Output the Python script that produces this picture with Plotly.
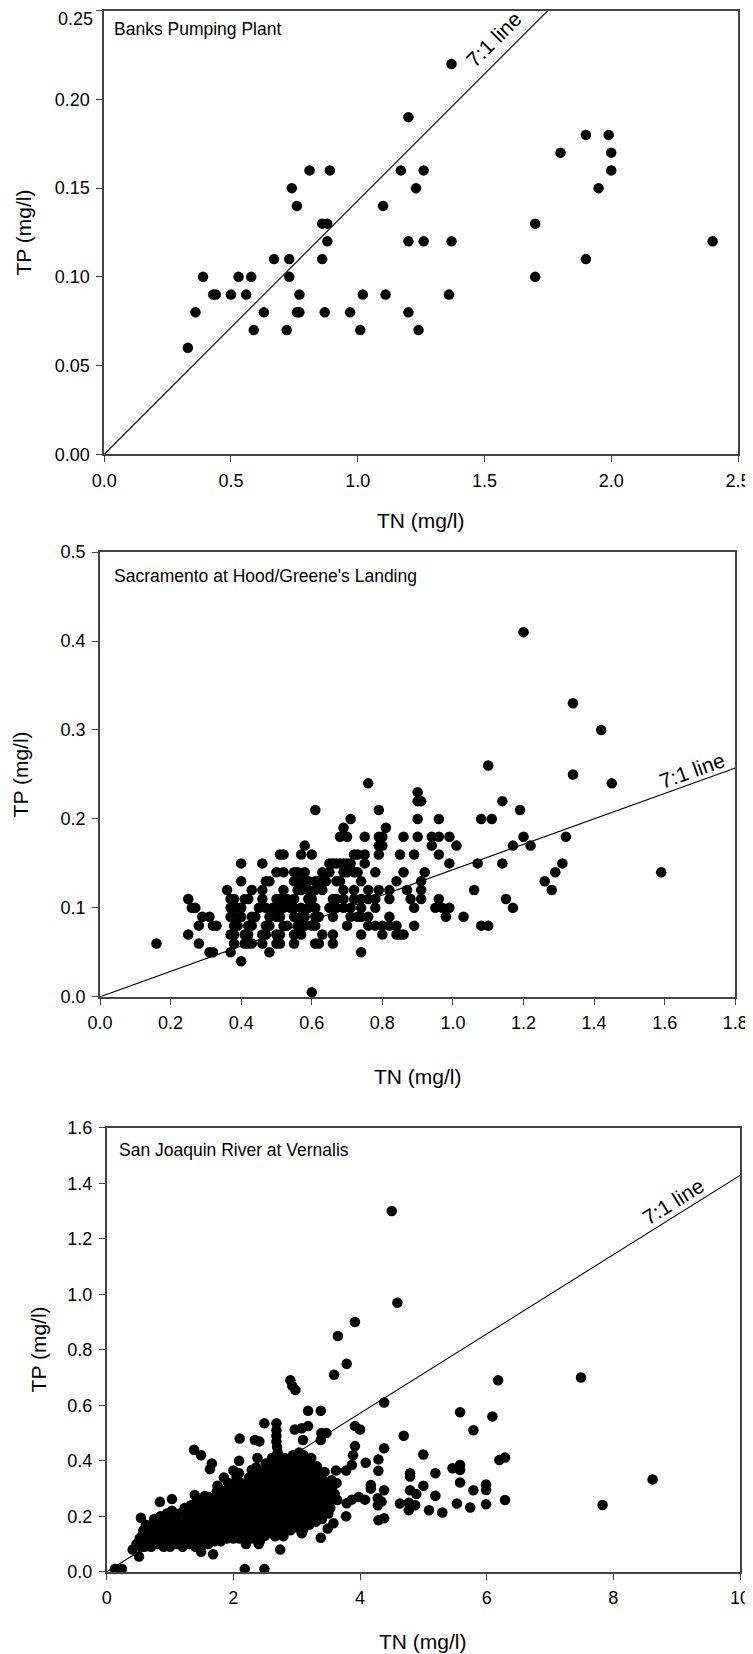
import plotly.graph_objects as go

W, H = 753, 1654
FONT = "Liberation Sans, Arial, sans-serif"

# ---------------- Panel 1: Banks Pumping Plant ----------------
banks_tn = [0.33, 0.36, 0.39, 0.43, 0.44, 0.50, 0.53, 0.56, 0.58, 0.59,
            0.63, 0.67, 0.72, 0.73, 0.73, 0.74, 0.76, 0.76, 0.77, 0.77,
            0.81, 0.86, 0.88, 0.86, 0.87, 0.88, 0.89, 0.97, 1.01, 1.02,
            1.10, 1.11, 1.17, 1.20, 1.20, 1.20, 1.23, 1.24, 1.26, 1.26,
            1.36, 1.37, 1.37, 1.70, 1.70, 1.80, 1.90, 1.90, 1.95, 1.99,
            2.00, 2.00, 2.40]
banks_tp = [0.06, 0.08, 0.10, 0.09, 0.09, 0.09, 0.10, 0.09, 0.10, 0.07,
            0.08, 0.11, 0.07, 0.11, 0.10, 0.15, 0.14, 0.08, 0.08, 0.09,
            0.16, 0.13, 0.13, 0.11, 0.08, 0.12, 0.16, 0.08, 0.07, 0.09,
            0.14, 0.09, 0.16, 0.19, 0.12, 0.08, 0.15, 0.07, 0.16, 0.12,
            0.09, 0.22, 0.12, 0.13, 0.10, 0.17, 0.18, 0.11, 0.15, 0.18,
            0.17, 0.16, 0.12]
banks_yticks = [0.00, 0.05, 0.10, 0.15, 0.20, 0.25]

# ---------------- Panel 2: Sacramento at Hood/Greene's Landing ----------------
sac_tn = [
    0.60,
    0.40,
    0.31, 0.32, 0.37, 0.48, 0.74,
    0.16, 0.28, 0.38, 0.41, 0.42, 0.43, 0.46, 0.50, 0.51, 0.55, 0.61, 0.62, 0.66,
    0.25, 0.37, 0.38, 0.41, 0.42, 0.46, 0.47, 0.50, 0.51, 0.55, 0.57, 0.63, 0.66, 0.74, 0.80, 0.84, 0.85, 0.86,
    0.28, 0.32, 0.33, 0.38, 0.39, 0.42, 0.43, 0.47, 0.48, 0.52, 0.53, 0.56, 0.57, 0.58, 0.60, 0.61, 0.70, 0.76, 0.78, 0.80, 0.82, 0.84, 0.89, 1.08, 1.10,
    0.29, 0.31, 0.37, 0.38, 0.40, 0.43, 0.44, 0.48, 0.50, 0.51, 0.55, 0.57, 0.58, 0.61, 0.62, 0.66, 0.71, 0.73, 0.74, 0.76, 0.82, 0.98, 1.03,
    0.26, 0.27, 0.37, 0.39, 0.40, 0.45, 0.47, 0.49, 0.50, 0.52, 0.54, 0.55, 0.57, 0.59, 0.61, 0.65, 0.67, 0.69, 0.71, 0.74, 0.78, 0.89, 0.95, 0.97, 0.99, 1.17,
    0.25, 0.37, 0.38, 0.41, 0.42, 0.46, 0.50, 0.51, 0.53, 0.55, 0.59, 0.60, 0.66, 0.67, 0.69, 0.72, 0.74, 0.76, 0.78, 0.82, 0.88, 0.91, 0.96, 1.15,
    0.36, 0.43, 0.46, 0.52, 0.56, 0.57, 0.59, 0.61, 0.63, 0.69, 0.72, 0.76, 0.79, 0.82, 0.87, 0.91, 1.06, 1.28,
    0.40, 0.47, 0.48, 0.55, 0.57, 0.58, 0.59, 0.61, 0.62, 0.64, 0.67, 0.68, 0.74, 0.84, 0.91, 1.26,
    0.50, 0.52, 0.55, 0.56, 0.58, 0.63, 0.65, 0.69, 0.70, 0.72, 0.73, 0.78, 0.86, 0.92, 1.29, 1.59,
    0.40, 0.46, 0.65, 0.66, 0.67, 0.68, 0.69, 0.70, 0.71, 0.75, 0.99, 1.07, 1.14, 1.31,
    0.51, 0.52, 0.57, 0.60, 0.72, 0.73, 0.75, 0.79, 0.85, 0.89, 0.96,
    0.58, 0.79, 0.80, 0.94, 1.01, 1.17, 1.22,
    0.68, 0.70, 0.75, 0.79, 0.80, 0.86, 0.90, 0.94, 0.96, 0.99, 1.20, 1.32,
    0.69, 0.81,
    0.71, 0.90, 0.96, 1.08, 1.11,
    0.61, 0.79, 1.19,
    0.90, 0.91, 1.14,
    0.90,
    0.76, 1.45,
    1.34,
    1.10,
    1.42,
    1.34,
    1.20,
]
sac_tp = [
    0.005,
    0.04,
    0.05, 0.05, 0.05, 0.05, 0.05,
    0.06, 0.06, 0.06, 0.06, 0.06, 0.06, 0.06, 0.06, 0.06, 0.06, 0.06, 0.06, 0.06,
    0.07, 0.07, 0.07, 0.07, 0.07, 0.07, 0.07, 0.07, 0.07, 0.07, 0.07, 0.07, 0.07, 0.07, 0.07, 0.07, 0.07, 0.07,
    0.08, 0.08, 0.08, 0.08, 0.08, 0.08, 0.08, 0.08, 0.08, 0.08, 0.08, 0.08, 0.08, 0.08, 0.08, 0.08, 0.08, 0.08, 0.08, 0.08, 0.08, 0.08, 0.08, 0.08, 0.08,
    0.09, 0.09, 0.09, 0.09, 0.09, 0.09, 0.09, 0.09, 0.09, 0.09, 0.09, 0.09, 0.09, 0.09, 0.09, 0.09, 0.09, 0.09, 0.09, 0.09, 0.09, 0.09, 0.09,
    0.10, 0.10, 0.10, 0.10, 0.10, 0.10, 0.10, 0.10, 0.10, 0.10, 0.10, 0.10, 0.10, 0.10, 0.10, 0.10, 0.10, 0.10, 0.10, 0.10, 0.10, 0.10, 0.10, 0.10, 0.10, 0.10,
    0.11, 0.11, 0.11, 0.11, 0.11, 0.11, 0.11, 0.11, 0.11, 0.11, 0.11, 0.11, 0.11, 0.11, 0.11, 0.11, 0.11, 0.11, 0.11, 0.11, 0.11, 0.11, 0.11, 0.11,
    0.12, 0.12, 0.12, 0.12, 0.12, 0.12, 0.12, 0.12, 0.12, 0.12, 0.12, 0.12, 0.12, 0.12, 0.12, 0.12, 0.12, 0.12,
    0.13, 0.13, 0.13, 0.13, 0.13, 0.13, 0.13, 0.13, 0.13, 0.13, 0.13, 0.13, 0.13, 0.13, 0.13, 0.13,
    0.14, 0.14, 0.14, 0.14, 0.14, 0.14, 0.14, 0.14, 0.14, 0.14, 0.14, 0.14, 0.14, 0.14, 0.14, 0.14,
    0.15, 0.15, 0.15, 0.15, 0.15, 0.15, 0.15, 0.15, 0.15, 0.15, 0.15, 0.15, 0.15, 0.15,
    0.16, 0.16, 0.16, 0.16, 0.16, 0.16, 0.16, 0.16, 0.16, 0.16, 0.16,
    0.17, 0.17, 0.17, 0.17, 0.17, 0.17, 0.17,
    0.18, 0.18, 0.18, 0.18, 0.18, 0.18, 0.18, 0.18, 0.18, 0.18, 0.18, 0.18,
    0.19, 0.19,
    0.20, 0.20, 0.20, 0.20, 0.20,
    0.21, 0.21, 0.21,
    0.22, 0.22, 0.22,
    0.23,
    0.24, 0.24,
    0.25,
    0.26,
    0.30,
    0.33,
    0.41,
]

# ---------------- Panel 3: San Joaquin River at Vernalis ----------------
# scattered / outlying points
sjr_out_tn = [
    0.13, 0.24, 2.18, 2.49, 4.50, 4.59, 3.92, 3.65, 3.79, 3.59,
    2.90, 2.93, 2.98, 3.18, 3.38, 4.38, 6.18, 7.49, 5.58, 6.09,
    5.79, 4.69, 3.92, 4.00, 3.92, 3.89, 3.87, 4.38, 5.00, 4.29,
    4.29, 4.09, 3.78, 6.20, 6.29, 5.46, 5.58, 5.58, 5.19, 4.79,
    4.79, 5.58, 5.79, 5.99, 5.99, 5.19, 5.00, 4.17, 4.17, 4.38,
    4.79, 4.89, 8.62, 7.83, 6.29, 5.99, 5.74, 5.53, 5.30, 5.09,
    4.77, 4.87, 4.63, 4.77, 4.28, 4.28, 4.34, 4.08, 3.98, 3.87,
    3.79, 3.64, 4.29, 4.38, 3.78, 3.58, 3.49, 3.38, 3.10, 3.08,
    2.74, 3.10, 3.39, 3.47, 3.38, 2.97, 3.08, 3.18, 1.38, 1.49,
    1.66, 1.63, 2.10, 2.34, 2.41, 2.49, 2.68, 2.68, 2.68, 2.68,
    2.69, 2.70, 2.38, 2.09, 2.00, 2.09, 2.29, 2.36, 1.85, 1.75,
    1.39, 1.55, 0.84, 1.03, 0.54, 0.41, 0.51, 1.49, 1.68, 2.66,
    2.79, 2.20, 2.40, 3.62, 3.63, 3.56, 3.60, 0.47, 0.52, 2.42,
    2.87,
]
sjr_out_tp = [
    0.01, 0.01, 0.01, 0.01, 1.30, 0.97, 0.90, 0.85, 0.75, 0.71,
    0.69, 0.67, 0.655, 0.58, 0.58, 0.61, 0.69, 0.70, 0.575, 0.56,
    0.51, 0.49, 0.525, 0.513, 0.453, 0.42, 0.385, 0.445, 0.423, 0.405,
    0.364, 0.393, 0.365, 0.403, 0.412, 0.373, 0.385, 0.367, 0.355, 0.355,
    0.343, 0.322, 0.294, 0.315, 0.295, 0.274, 0.31, 0.313, 0.30, 0.294,
    0.294, 0.28, 0.333, 0.241, 0.259, 0.243, 0.232, 0.246, 0.214, 0.222,
    0.222, 0.24, 0.246, 0.249, 0.265, 0.24, 0.253, 0.26, 0.27, 0.26,
    0.247, 0.259, 0.186, 0.193, 0.20, 0.175, 0.156, 0.123, 0.15, 0.139,
    0.08, 0.475, 0.50, 0.50, 0.475, 0.513, 0.517, 0.525, 0.44, 0.42,
    0.39, 0.37, 0.48, 0.475, 0.47, 0.535, 0.535, 0.51, 0.49, 0.47,
    0.45, 0.43, 0.41, 0.40, 0.365, 0.355, 0.367, 0.376, 0.34, 0.31,
    0.277, 0.273, 0.252, 0.262, 0.195, 0.08, 0.055, 0.072, 0.063, 0.128,
    0.128, 0.10, 0.10, 0.365, 0.32, 0.30, 0.28, 0.10, 0.12, 0.11,
    0.162,
]
# dense main cloud (read column by column)
sjr_tn = [
    0.55, 0.57, 0.56, 0.58,
    0.60, 0.63, 0.61, 0.64, 0.62,
    0.70, 0.73, 0.71, 0.74, 0.72, 0.75,
    0.80, 0.83, 0.81, 0.84, 0.82, 0.85,
    0.90, 0.93, 0.91, 0.94, 0.92, 0.95,
    1.00, 1.03, 1.01, 1.04, 1.02, 1.05, 1.03,
    1.10, 1.13, 1.11, 1.14, 1.12, 1.15,
    1.20, 1.23, 1.21, 1.24, 1.22, 1.25, 1.23,
    1.30, 1.33, 1.31, 1.34, 1.32, 1.35, 1.33,
    1.40, 1.43, 1.41, 1.44, 1.42, 1.45, 1.43, 1.41,
    1.50, 1.53, 1.51, 1.54, 1.52, 1.55, 1.53, 1.51,
    1.60, 1.63, 1.61, 1.64, 1.62, 1.65, 1.63, 1.61,
    1.70, 1.73, 1.71, 1.74, 1.72, 1.75, 1.73, 1.71, 1.74,
    1.80, 1.83, 1.81, 1.84, 1.82, 1.85, 1.83, 1.81, 1.84,
    1.90, 1.93, 1.91, 1.94, 1.92, 1.95, 1.93, 1.91, 1.94, 1.92,
    2.00, 2.03, 2.01, 2.04, 2.02, 2.05, 2.03, 2.01, 2.04, 2.02, 2.05,
    2.10, 2.13, 2.11, 2.14, 2.12, 2.15, 2.13, 2.11, 2.14, 2.12,
    2.20, 2.23, 2.21, 2.24, 2.22, 2.25, 2.23, 2.21, 2.24, 2.22, 2.25,
    2.30, 2.33, 2.31, 2.34, 2.32, 2.35, 2.33, 2.31, 2.34, 2.32, 2.35, 2.33,
    2.40, 2.43, 2.41, 2.44, 2.42, 2.45, 2.43, 2.41, 2.44, 2.42, 2.45, 2.43,
    2.50, 2.53, 2.51, 2.54, 2.52, 2.55, 2.53, 2.51, 2.54, 2.52, 2.55, 2.53, 2.51,
    2.60, 2.63, 2.61, 2.64, 2.62, 2.65, 2.63, 2.61, 2.64, 2.62, 2.65, 2.63, 2.61,
    2.70, 2.73, 2.71, 2.74, 2.72, 2.75, 2.73, 2.71, 2.74, 2.72, 2.75, 2.73, 2.71,
    2.80, 2.83, 2.81, 2.84, 2.82, 2.85, 2.83, 2.81, 2.84, 2.82, 2.85, 2.83, 2.81,
    2.90, 2.93, 2.91, 2.94, 2.92, 2.95, 2.93, 2.91, 2.94, 2.92, 2.95, 2.93, 2.91, 2.94,
    3.00, 3.03, 3.01, 3.04, 3.02, 3.05, 3.03, 3.01, 3.04, 3.02, 3.05, 3.03, 3.01, 3.04,
    3.10, 3.13, 3.11, 3.14, 3.12, 3.15, 3.13, 3.11, 3.14, 3.12, 3.15, 3.13, 3.11,
    3.20, 3.23, 3.21, 3.24, 3.22, 3.25, 3.23, 3.21, 3.24, 3.22, 3.25, 3.23,
    3.30, 3.33, 3.31, 3.34, 3.32, 3.35, 3.33, 3.31, 3.34, 3.32,
    3.40, 3.43, 3.41, 3.44, 3.42, 3.45, 3.43, 3.41, 3.44,
    3.50, 3.53, 3.51, 3.54, 3.52, 3.55,
]
sjr_tp = [
    0.09, 0.11, 0.13, 0.15,
    0.09, 0.11, 0.13, 0.15, 0.17,
    0.09, 0.11, 0.13, 0.15, 0.17, 0.19,
    0.10, 0.12, 0.14, 0.16, 0.18, 0.20,
    0.09, 0.11, 0.13, 0.15, 0.18, 0.21,
    0.09, 0.11, 0.13, 0.15, 0.17, 0.19, 0.22,
    0.10, 0.12, 0.14, 0.16, 0.18, 0.21,
    0.09, 0.11, 0.13, 0.15, 0.17, 0.20, 0.23,
    0.10, 0.12, 0.14, 0.16, 0.18, 0.21, 0.24,
    0.09, 0.11, 0.13, 0.15, 0.17, 0.19, 0.22, 0.25,
    0.10, 0.12, 0.14, 0.16, 0.18, 0.20, 0.23, 0.26,
    0.10, 0.12, 0.14, 0.16, 0.18, 0.21, 0.24, 0.27,
    0.11, 0.13, 0.15, 0.17, 0.19, 0.21, 0.24, 0.26, 0.29,
    0.11, 0.13, 0.15, 0.17, 0.19, 0.21, 0.23, 0.26, 0.29,
    0.12, 0.14, 0.16, 0.18, 0.20, 0.22, 0.24, 0.27, 0.30, 0.32,
    0.12, 0.14, 0.16, 0.18, 0.20, 0.22, 0.25, 0.27, 0.29, 0.31, 0.34,
    0.12, 0.14, 0.16, 0.18, 0.20, 0.22, 0.24, 0.27, 0.29, 0.32,
    0.12, 0.14, 0.16, 0.18, 0.20, 0.22, 0.24, 0.26, 0.29, 0.31, 0.34,
    0.12, 0.14, 0.16, 0.18, 0.20, 0.22, 0.24, 0.26, 0.28, 0.31, 0.34, 0.37,
    0.12, 0.14, 0.16, 0.18, 0.20, 0.22, 0.24, 0.26, 0.29, 0.31, 0.33, 0.36,
    0.13, 0.15, 0.17, 0.19, 0.21, 0.23, 0.25, 0.27, 0.29, 0.31, 0.33, 0.36, 0.39,
    0.14, 0.16, 0.18, 0.20, 0.22, 0.24, 0.26, 0.28, 0.30, 0.32, 0.35, 0.38, 0.41,
    0.14, 0.16, 0.18, 0.20, 0.22, 0.24, 0.26, 0.28, 0.30, 0.33, 0.35, 0.38, 0.41,
    0.15, 0.17, 0.19, 0.21, 0.23, 0.25, 0.27, 0.29, 0.31, 0.33, 0.36, 0.39, 0.41,
    0.15, 0.17, 0.19, 0.21, 0.23, 0.25, 0.27, 0.29, 0.31, 0.33, 0.35, 0.37, 0.40, 0.42,
    0.16, 0.18, 0.20, 0.22, 0.24, 0.26, 0.28, 0.30, 0.32, 0.34, 0.36, 0.38, 0.40, 0.43,
    0.16, 0.18, 0.20, 0.22, 0.24, 0.26, 0.28, 0.30, 0.32, 0.34, 0.37, 0.39, 0.42,
    0.17, 0.19, 0.21, 0.23, 0.25, 0.27, 0.29, 0.31, 0.33, 0.35, 0.38, 0.41,
    0.18, 0.20, 0.22, 0.24, 0.26, 0.28, 0.30, 0.32, 0.35, 0.38,
    0.19, 0.21, 0.23, 0.25, 0.27, 0.29, 0.31, 0.33, 0.36,
    0.21, 0.23, 0.25, 0.27, 0.30, 0.33,
]

assert len(banks_tn) == len(banks_tp)
assert len(sac_tn) == len(sac_tp), (len(sac_tn), len(sac_tp))
assert len(sjr_out_tn) == len(sjr_out_tp)
assert len(sjr_tn) == len(sjr_tp), (len(sjr_tn), len(sjr_tp))

RATIO = 7  # TN:TP reference line (7:1)
titles = ["Banks Pumping Plant", "Sacramento at Hood/Greene's Landing",
          "San Joaquin River at Vernalis"]
x_title = "TN (mg/l)"
y_title = "TP (mg/l)"

# ---------------- layout (pixel geometry of the page) ----------------
panels = [
    dict(tn=banks_tn, tp=banks_tp, xr=[0, 2.5], yr=[0, 0.25], dx=0.5, dy=0.05,
         xf=".1f", yf=".2f", box=(104.2, 10.7, 738.0, 454.3), yticks=banks_yticks,
         lab=(111.5, 29.2), rl=(493.5, 39.5, -45), xt=(421, 520.5), yt=(23, 232.5)),
    dict(tn=sac_tn, tp=sac_tp, xr=[0, 1.8], yr=[0, 0.5], dx=0.2, dy=0.1,
         xf=".1f", yf=".1f", box=(100.0, 552.1, 735.3, 996.8), yticks=None,
         lab=(111.5, 575.5), rl=(691.7, 770.0, -19.8), xt=(417.6, 1076), yt=(20, 774.4)),
    dict(tn=sjr_out_tn + sjr_tn, tp=sjr_out_tp + sjr_tp, xr=[0, 10], yr=[0, 1.6], dx=2, dy=0.2,
         xf="d", yf=".1f", box=(106.7, 1127.8, 740.0, 1571.8), yticks=None,
         lab=(116.5, 1150.0), rl=(673.0, 1201.0, -32), xt=(423, 1641), yt=(38.6, 1349.8)),
]

# the page body adds an 8px margin around the figure
OFF = 8.0

def px(x):
    return (x - OFF) / W

def py(y):
    return 1 - (y - OFF) / H

fig = go.Figure()
annotations = []
AX_COL = "#444444"
TICK_SIZE = 18

for i, p in enumerate(panels):
    n = "" if i == 0 else str(i + 1)
    xa, ya = "x" + n, "y" + n
    x0, y0, x1, y1 = p["box"]
    # 7:1 reference line
    x_end = min(p["xr"][1], RATIO * p["yr"][1])
    fig.add_trace(go.Scatter(x=[0, x_end], y=[0, x_end / RATIO], mode="lines",
                             line=dict(color="black", width=1.1),
                             xaxis=xa, yaxis=ya, showlegend=False, hoverinfo="skip"))
    fig.add_trace(go.Scatter(x=p["tn"], y=p["tp"], mode="markers",
                             marker=dict(color="black", size=10.5, line=dict(width=0)),
                             xaxis=xa, yaxis=ya, showlegend=False, cliponaxis=False))
    common = dict(showline=True, linecolor=AX_COL, linewidth=1.6, mirror=True,
                  ticks="outside", ticklen=6, tickwidth=1.3, tickcolor=AX_COL,
                  showgrid=False, zeroline=False, ticklabelstandoff=3, automargin=False,
                  ticklabeloverflow="allow",
                  tickfont=dict(family=FONT, size=TICK_SIZE, color="black"))
    yaxis = dict(common, domain=[py(y1), py(y0)], range=p["yr"], anchor=xa)
    if p["yticks"] is not None:
        # top label sits at the very page edge: draw it as text kept inside the page
        labels = [format(v, p["yf"]) for v in p["yticks"]]
        yaxis.update(tickmode="array", tickvals=p["yticks"], ticktext=labels[:-1] + [""])
        annotations.append(dict(text=labels[-1], x=px(x0 - 6 - 3 - 1), y=py(y0 + 8.5),
                                xref="paper", yref="paper", xanchor="right", yanchor="middle",
                                showarrow=False, borderpad=0,
                                font=dict(family=FONT, size=TICK_SIZE, color="black")))
    else:
        yaxis.update(dtick=p["dy"], tick0=0, tickformat=p["yf"])
    fig.update_layout(**{
        "xaxis" + n: dict(common, domain=[px(x0), px(x1)], range=p["xr"], dtick=p["dx"],
                          tick0=0, tickformat=p["xf"], anchor=ya),
        "yaxis" + n: yaxis,
    })
    annotations.append(dict(text=titles[i], x=px(p["lab"][0]), y=py(p["lab"][1]),
                            xref="paper", yref="paper", xanchor="left", yanchor="middle",
                            showarrow=False, font=dict(family=FONT, size=17.5, color="black")))
    annotations.append(dict(text="7:1 line", x=px(p["rl"][0]), y=py(p["rl"][1]),
                            xref="paper", yref="paper", xanchor="center", yanchor="middle",
                            textangle=p["rl"][2], showarrow=False,
                            font=dict(family=FONT, size=21, color="black")))
    annotations.append(dict(text=x_title, x=px(p["xt"][0]), y=py(p["xt"][1]),
                            xref="paper", yref="paper", xanchor="center", yanchor="middle",
                            showarrow=False, font=dict(family=FONT, size=21, color="black")))
    annotations.append(dict(text=y_title, x=px(p["yt"][0]), y=py(p["yt"][1]),
                            xref="paper", yref="paper", xanchor="center", yanchor="middle",
                            textangle=-90, showarrow=False,
                            font=dict(family=FONT, size=21, color="black")))

fig.update_layout(width=W, height=H, margin=dict(l=0, r=0, t=0, b=0, autoexpand=False),
                  paper_bgcolor="white", plot_bgcolor="white",
                  annotations=annotations, showlegend=False)

fig.write_html("out.html")
